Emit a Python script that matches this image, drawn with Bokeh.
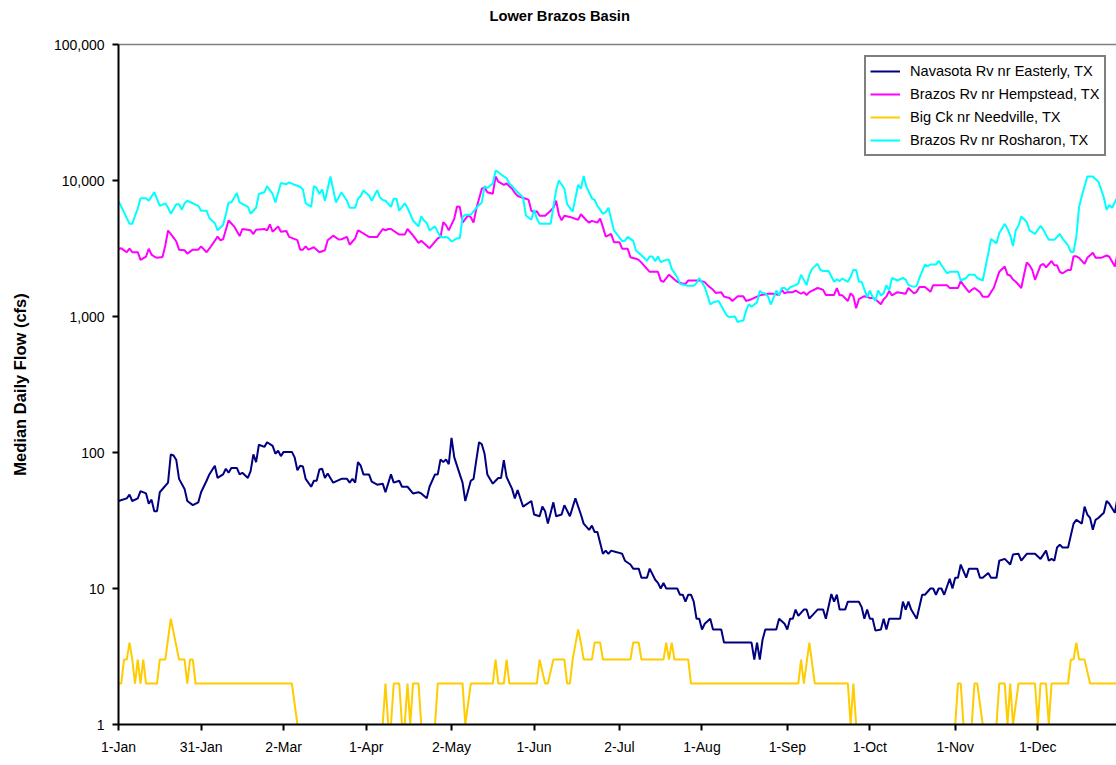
import math
from bokeh.plotting import figure
from bokeh.models import (Range1d, FixedTicker, NumeralTickFormatter, LinearAxis,
                          Legend, LegendItem)
from bokeh.embed import file_html
from bokeh.resources import INLINE

NAN = float("nan")

# ---------------- data (day of year, median daily flow in cfs) ----------------
tick_days = [0, 30, 60, 90, 121, 151, 182, 212, 243, 273, 304, 334]
tick_labels = ["1-Jan", "31-Jan", "2-Mar", "1-Apr", "2-May", "1-Jun",
               "2-Jul", "1-Aug", "1-Sep", "1-Oct", "1-Nov", "1-Dec"]
y_ticks = [1, 10, 100, 1000, 10000, 100000]

chart_title = "Lower Brazos Basin"
y_title = "Median Daily Flow (cfs)"
series_names = ["Navasota Rv nr Easterly, TX", "Brazos Rv nr Hempstead, TX",
                "Big Ck nr Needville, TX", "Brazos Rv nr Rosharon, TX"]
series_colors = ["#000080", "#FF00FF", "#FFCC00", "#00FFFF"]

nav_day = [0, 3, 4, 5, 7, 8, 10, 11, 12, 13, 14, 15, 18, 19, 20, 21, 22, 24, 25, 27, 29, 30, 32, 33, 35, 36, 38, 39, 40, 41,
           43, 44, 45, 47, 48, 49, 50, 51, 53, 54, 56, 57, 58, 59, 60, 63, 64, 65, 66, 67, 68, 70, 71, 72, 73, 74, 75, 76, 78,
           81, 83, 84, 85, 86, 87, 88, 89, 91, 92, 94, 96, 97, 99, 100, 102, 103, 105, 107, 109, 110, 112, 113, 115, 116, 117,
           118, 119, 120, 121, 122, 124, 125, 126, 128, 129, 130, 131, 132, 133, 134, 136, 137, 138, 139, 140, 141, 143, 144,
           145, 147, 150, 151, 153, 154, 155, 156, 158, 159, 161, 162, 164, 166, 168, 169, 171, 172, 173, 174, 176, 177, 178,
           179, 181, 183, 184, 186, 187, 189, 190, 192, 193, 195, 196, 197, 198, 199, 203, 204, 205, 206, 207, 208, 209, 210,
           211, 212, 213, 215, 216, 219, 220, 230, 231, 232, 233, 234, 235, 239, 240, 242, 243, 244, 245, 246, 247, 249, 250,
           251, 254, 256, 257, 259, 260, 261, 262, 264, 265, 269, 270, 271, 272, 273, 274, 275, 277, 278, 279, 280, 284, 285,
           286, 287, 288, 290, 292, 293, 295, 296, 297, 298, 299, 300, 302, 303, 304, 305, 306, 308, 309, 312, 313, 314, 316,
           317, 319, 320, 322, 324, 325, 327, 328, 330, 333, 335, 337, 338, 339, 340, 341, 342, 343, 345, 347, 348, 350, 351,
           352, 353, 354, 355, 356, 358, 359, 360, 362, 363]
nav_cfs = [44, 46, 49, 44, 46, 52, 50, 42, 45, 37, 37, 51, 60, 97, 95, 88, 64, 54, 44, 41, 43, 51, 62, 69, 80, 65, 69, 76, 71, 77,
           77, 69, 71, 65, 73, 97, 85, 114, 110, 119, 112, 98, 103, 94, 101, 101, 92, 74, 80, 79, 64, 56, 62, 62, 75, 76, 65, 70, 60,
           64, 64, 60, 64, 60, 85, 80, 69, 69, 61, 58, 59, 51, 69, 60, 62, 56, 56, 50, 51, 50, 46, 56, 69, 69, 89,
           85, 89, 82, 128, 92, 69, 60, 44, 62, 64, 88, 119, 115, 98, 69, 59, 62, 65, 65, 88, 66, 54, 46,
           53, 40, 44, 35, 34, 40, 37, 30, 43, 34, 35, 41, 34, 46, 35, 30, 27, 29, 26, 26, 18, 19, 18,
           19, 18.5, 18, 16, 15, 14, 14, 12, 12, 14, 11.6, 11, 10, 11, 10, 10, 9, 9, 8, 9, 9, 8, 6,
           6, 5, 5.5, 6, 5, 5, 4, 4, 3, 4, 3, 4.2, 5, 5, 6, 5.5, 5, 6, 6, 7, 6.3, 7, 7,
           6, 7, 7, 6, 9.1, 8, 9, 7, 7, 8, 8, 7.3, 6, 7, 6, 6, 4.9, 5, 6, 5, 6, 6, 8,
           7, 8, 7, 6, 9, 9, 10, 10, 9, 10, 10, 9, 11.8, 10, 12, 12, 15, 12, 14, 14, 12, 12, 13,
           12, 12, 16, 16.5, 15, 17.8, 18, 16, 18, 18, 16.5, 19, 16, 16.5, 16, 20, 21, 20, 20, 30, 32, 30, 40,
           35, 33, 27, 32, 33, 36, 44, 42, 36, 47]

hemp_day = [0, 1, 3, 4, 5, 7, 8, 10, 11, 12, 13, 14, 16, 17, 18, 20, 21, 22, 24, 25, 27, 29, 30, 32, 33, 36, 37, 38, 40, 42,
            44, 45, 48, 49, 50, 53, 54, 55, 56, 58, 59, 61, 62, 65, 66, 67, 68, 69, 71, 73, 75, 76, 78, 80, 81, 83, 84, 86, 87,
            88, 91, 94, 96, 97, 98, 99, 102, 104, 105, 107, 109, 110, 111, 113, 116, 117, 118, 119, 120, 122, 123, 124, 125,
            127, 128, 129, 130, 132, 133, 134, 136, 137, 138, 140, 141, 143, 144, 145, 148, 149, 150, 151, 152, 153, 155, 157,
            158, 159, 160, 161, 162, 164, 167, 168, 170, 171, 172, 174, 175, 176, 177, 179, 180, 182, 183, 185, 186, 188, 189,
            190, 192, 193, 196, 197, 198, 200, 201, 202, 203, 205, 206, 207, 211, 213, 214, 216, 217, 219, 220, 222, 223, 225,
            227, 228, 230, 231, 233, 236, 238, 240, 241, 242, 243, 245, 246, 248, 249, 250, 251, 254, 255, 256, 257, 260, 261,
            262, 263, 265, 266, 267, 268, 269, 271, 273, 274, 275, 277, 278, 279, 280, 281, 283, 286, 287, 289, 290, 291, 293,
            295, 296, 301, 302, 304, 305, 306, 307, 309, 310, 311, 313, 314, 316, 317, 318, 320, 322, 323, 324, 325, 326, 328,
            329, 330, 331, 332, 333, 335, 336, 337, 339, 340, 341, 342, 343, 345, 346, 347, 348, 349, 351, 352, 354, 355, 357,
            359, 360, 362, 363]
hemp_cfs = [3150, 3170, 2970, 3150, 2970, 2970, 2610, 2760, 3150, 2850, 2760, 2700, 2740, 3330, 4290, 3800, 3560, 3100, 3070, 2900,
            3100, 3100, 3280, 2970, 3150, 3870, 3640, 3700, 5080, 4600, 3900, 4400, 4300, 4040, 4350, 4400, 4300, 4750, 4200, 4600,
            4200, 4250, 3850, 3640, 3100, 3100, 3280, 3100, 3230, 2970, 3070, 3640, 3930, 3680, 3700, 3850, 3370, 3760, 4300,
            4200, 3850, 3850, 4400, 4300, 4400, 4400, 4000, 4000, 4400, 3950, 3480, 3600, 3450, 3180, 3760, 3850, 4930, 4700, 4300,
            5250, 6440, 6400, 4900, 5550, 5370, 4900, 6200, 8700, 8900, 8200, 8000, 10700, 9800, 9300, 9500, 8700, 8100, 7700,
            7350, 7200, 6000, 5800, 5950, 5500, 5500, 6000, 6300, 7100, 5600, 5100, 5500, 5400, 5150, 5650, 5100, 4900, 5050,
            4900, 5250, 4540, 3870, 4040, 3520, 3520, 3150, 3150, 2730, 2660, 2610, 2490, 2240, 2130, 2130, 1840, 1800, 2030,
            1950, 1870, 1800, 1740, 1740, 1840, 1840, 1790, 1700, 1570, 1490, 1510, 1400, 1370, 1300, 1410, 1410, 1300, 1340,
            1370, 1430, 1470, 1470, 1440, 1570, 1480, 1510, 1510, 1550, 1470, 1510, 1440, 1510, 1620, 1600, 1570, 1440, 1440,
            1620, 1430, 1430, 1300, 1480, 1410, 1150, 1340, 1410, 1370, 1370, 1340, 1230, 1340, 1400, 1540, 1430, 1510, 1470,
            1620, 1480, 1520, 1650, 1650, 1520, 1700, 1700, 1620, 1620, 1620, 1820, 1700, 1510, 1570, 1620, 1510, 1400, 1400,
            1510, 1620, 2130, 2330, 2030, 2000, 1870, 1800, 1620, 2030, 2500, 2380, 2200, 1860, 2380, 2440, 2300, 2560, 2380,
            2380, 2130, 2080, 2200, 2200, 2770, 2770, 2700, 2440, 2700, 2940, 2700, 2700, 2810, 2750, 2330, 2940]

needv_day = [0, 1, 2, 3, 4, 5, 6, 7, 8, 9, 10, 14, 15, 17, 19, 22, 24, 25, 26, 27, 28, 63, 65, 80,
             96, 97, 98, 99, 100, 102, 103, 104, 105, 106, 107, 109, 110, 113,
             115, 116, 125, 126, 128, 136, 137, 138, 140, 141, 142, 152, 153, 155, 156, 158, 162, 163, 164, 165, 167, 168,
             169, 172, 173, 175, 176, 186, 187, 189, 190, 198, 199, 200, 201, 202, 207, 208, 247, 248, 249, 251, 253, 265,
             266, 267, 268, 285, 304, 305, 306, 307, 308, 310, 311, 312, 314, 317, 319, 320, 322, 323, 324, 325, 327, 333,
             334, 335, 337, 338, 339, 345, 346, 347, 348, 349, 351, 353, 364]
needv_cfs = [2, 2, 3, 3, 4, 3, 2, 3, 2, 3, 2, 2, 3, 3, 6, 3, 3, 2, 3, 3, 2, 2, 1, NAN,
             1, 2, 1, 1, 2, 2, 1, 1, 2, 1, 2, 2, 1, NAN,
             1, 2, 2, 1, 2, 2, 3, 2, 2, 3, 2, 2, 3, 2, 2, 3, 3, 2, 2, 3, 5, 4,
             3, 3, 4, 4, 3, 3, 4, 4, 3, 3, 4, 3, 4, 3, 3, 2, 2, 3, 2, 4, 2, 2,
             1, 2, 1, NAN, 1, 2, 2, 1, NAN, 1, 2, 2, 1, NAN, 1, 2, 2, 1, 2, 1, 2, 2,
             1, 2, 2, 1, 2, 2, 3, 3, 4, 3, 3, 2, 2]

rosh_day = [0, 2, 4, 5, 6, 7, 8, 10, 11, 13, 15, 17, 18, 19, 21, 22, 23, 24, 25, 27, 29, 30, 32, 33, 35, 36, 38, 39, 40, 41,
            43, 44, 47, 48, 50, 51, 53, 54, 56, 57, 59, 61, 62, 64, 66, 67, 68, 70, 71, 72, 73, 74, 75, 76, 77, 79, 81, 83, 84,
            86, 87, 88, 89, 91, 92, 94, 95, 96, 97, 99, 100, 101, 102, 104, 105, 107, 109, 110, 111, 112, 113, 115, 117, 119,
            120, 121, 123, 124, 125, 126, 127, 128, 130, 131, 132, 133, 134, 136, 137, 138, 140, 141, 142, 143, 145, 147, 148,
            150, 151, 152, 153, 157, 159, 160, 162, 163, 165, 167, 168, 169, 170, 172, 173, 174, 176, 177, 178, 180, 181, 183,
            184, 185, 187, 188, 190, 192, 193, 194, 195, 196, 197, 199, 200, 201, 203, 204, 206, 207, 209, 210, 211, 213, 214,
            215, 216, 218, 219, 221, 222, 224, 225, 226, 227, 228, 229, 230, 232, 233, 234, 235, 236, 237, 239, 240, 241, 242,
            243, 244, 246, 247, 248, 249, 250, 251, 252, 254, 255, 256, 257, 258, 260, 261, 262, 263, 265, 266, 267, 268, 269,
            270, 272, 273, 274, 275, 276, 277, 278, 279, 280, 281, 283, 285, 286, 287, 289, 290, 291, 293, 294, 295, 297, 298,
            299, 301, 302, 305, 306, 308, 309, 311, 312, 314, 316, 317, 319, 320, 322, 323, 324, 325, 326, 327, 328, 330, 331,
            333, 335, 336, 338, 340, 342, 343, 345, 346, 347, 348, 349, 350, 352, 354, 356, 357, 358, 359, 360, 361, 363]
rosh_cfs = [7040, 5850, 4800, 4800, 5500, 6200, 7400, 7400, 7100, 8200, 6500, 6800, 6300, 5700, 6700, 6700, 6100, 6800, 7100, 6800,
            6500, 6000, 6000, 5300, 4850, 4300, 4700, 5600, 6900, 6900, 8100, 6900, 6400, 5700, 6300, 7950, 8200, 9100, 7950, 6900,
            9600, 9400, 9700, 9300, 9000, 8600, 6800, 6400, 9100, 8800, 7950, 8600, 7100, 8700, 10700, 6900, 8200, 7100, 6300,
            6300, 7350, 7700, 8440, 7770, 7100, 8500, 7500, 7200, 7100, 6400, 7350, 7350, 6000, 6800, 6300, 5080, 4600, 5450, 5080,
            4870, 4300, 4600, 3830, 3850, 3760, 3560, 3760, 3760, 5370, 5600, 5600, 5600, 6300, 6600, 6900, 9080, 8800, 9500,
            11800, 11500, 10700, 10400, 9500, 9100, 8200, 7500, 5530, 5150, 6100, 5250, 4800, 4800, 8500, 10000, 8700, 6700, 5900,
            9300, 8700, 10800, 9000, 7400, 7200, 6500, 5690, 5850, 6300, 4290, 4050, 3580, 3600, 3850, 3600, 3060, 2820, 2570,
            2760, 2760, 2550, 2760, 2510, 2610, 2610, 2240, 1950, 1740, 1700, 1680, 1680, 1760, 1920, 1650, 1430, 1225, 1270,
            1300, 1200, 1016, 990, 1000, 908, 930, 930, 1100, 1230, 1180, 1270, 1550, 1480, 1480, 1400, 1225, 1550, 1430, 1620,
            1620, 1550, 1640, 1700, 1750, 2030, 1860, 1700, 2030, 2240, 2440, 2200, 2160, 2160, 2160, 1800, 1880, 1820, 1900,
            1800, 1960, 2200, 2200, 1800, 1800, 1390, 1550, 1390, 1300, 1550, 1430, 1480, 1700, 1550, 1920, 1840, 1920, 1870,
            1700, 1650, 1680, 1920, 2410, 2350, 2410, 2410, 2570, 2380, 2080, 2130, 2130, 1840, 1920, 2030, 2030, 1920, 1840,
            2890, 3720, 3450, 4100, 4800, 4400, 3930, 3300, 4300, 4650, 5440, 4950, 4300, 4040, 4650, 4350, 3660, 3660, 4040,
            3740, 3330, 2980, 2980, 3850, 6370, 7700, 10700, 10700, 9800, 8600, 7500, 6090, 6600, 6300, 7600]

series_days = [nav_day, hemp_day, needv_day, rosh_day]
series_vals = [nav_cfs, hemp_cfs, needv_cfs, rosh_cfs]

# ---------------- figure ----------------
FONT = "Liberation Sans"

p = figure(width=1116, height=760, x_range=Range1d(0, 362.6), y_range=Range1d(1, 100000),
           y_axis_type="log", output_backend="svg", toolbar_location=None)
p.min_border_left = 118
p.min_border_right = 0
p.min_border_top = 44
p.min_border_bottom = 36
p.outline_line_color = None
p.grid.visible = False
p.background_fill_color = "white"
p.border_fill_color = "white"

# title
p.title.text = chart_title
p.title.text_font = FONT
p.title.text_font_size = "14.7px"
p.title.text_font_style = "bold"
p.title.text_color = "black"
p.title.align = "left"
p.title.offset = 371
p.title.standoff = 8

# x axis
xa = p.xaxis[0]
xa.ticker = FixedTicker(ticks=tick_days)
xa.major_label_overrides = {d: l for d, l in zip(tick_days, tick_labels)}
xa.major_label_text_font = FONT
xa.major_label_text_font_size = "14px"
xa.major_label_text_color = "black"
xa.major_label_standoff = 8
xa.major_tick_out = 6
xa.major_tick_in = 0
xa.minor_tick_line_color = None
xa.axis_line_width = 2
xa.axis_line_color = "black"
xa.major_tick_line_width = 2
xa.major_tick_line_color = "black"

# y axis
ya = p.yaxis[0]
ya.ticker = FixedTicker(ticks=y_ticks)
ya.formatter = NumeralTickFormatter(format="0,0")
ya.major_label_text_font = FONT
ya.major_label_text_font_size = "14px"
ya.major_label_text_color = "black"
ya.major_label_standoff = 8
ya.major_tick_out = 6
ya.major_tick_in = 0
ya.minor_tick_line_color = None
ya.axis_line_width = 2
ya.axis_line_color = "black"
ya.major_tick_line_width = 2
ya.major_tick_line_color = "black"
ya.axis_label = y_title
ya.axis_label_text_font = FONT
ya.axis_label_text_font_size = "16.5px"
ya.axis_label_text_font_style = "bold"
ya.axis_label_text_color = "black"
ya.axis_label_standoff = 22

# gray top border of the plot area (an unlabeled axis that also spaces the title upward)
top = LinearAxis(ticker=FixedTicker(ticks=[180]), axis_line_color="#808080", axis_line_width=1.5,
                 major_tick_line_color=None, minor_tick_line_color=None,
                 major_tick_out=17, major_tick_in=0, major_label_standoff=0,
                 major_label_text_alpha=0, major_label_text_font_size="1px")
p.add_layout(top, "above")

# lines
renderers = []
for days, vals, col in zip(series_days, series_vals, series_colors):
    r = p.line(days, vals, line_color=col, line_width=2)
    renderers.append(r)

legend = Legend(items=[LegendItem(label=n, renderers=[r]) for n, r in zip(series_names, renderers)],
                location=(746, 568))
legend.border_line_color = "black"
legend.border_line_width = 2
legend.background_fill_color = "white"
legend.background_fill_alpha = 1
legend.padding = 4
legend.spacing = 3
legend.margin = 0
legend.label_height = 20
legend.glyph_height = 20
legend.glyph_width = 30
legend.label_standoff = 10
legend.label_text_font = FONT
legend.label_text_font_size = "14.6px"
legend.label_text_color = "black"
p.add_layout(legend, "center")

open("out.html", "w").write(file_html(p, INLINE))
